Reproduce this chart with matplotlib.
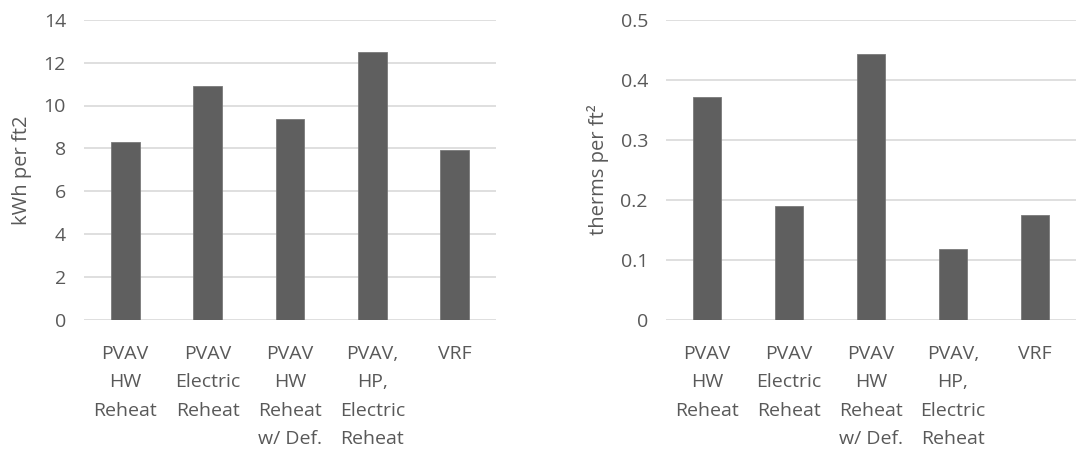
import matplotlib
matplotlib.use('Agg')
from matplotlib import pyplot as plt

systems = ['PVAV\nHW\nReheat', 'PVAV\nElectric\nReheat', 'PVAV\nHW\nReheat\nw/ Def.',
           'PVAV,\nHP,\nElectric\nReheat', 'VRF']
kwh = [8.31, 10.92, 9.37, 12.48, 7.91]
therms = [0.372, 0.190, 0.443, 0.118, 0.174]

plt.rcParams['font.family'] = ['Open Sans', 'DejaVu Sans']
text_color = '#595959'

fig = plt.figure(figsize=(10.85, 4.53), dpi=100)
ax1 = fig.add_axes([84 / 1085, 133 / 453, 412 / 1085, 300.3 / 453])
ax2 = fig.add_axes([666 / 1085, 133 / 453, 410 / 1085, 300.3 / 453])


def style(ax, values, ymax, step, label):
    x = range(len(values))
    ax.bar(x, values, width=0.35, color='#5f5f5f', edgecolor='#7a7a7a', linewidth=0.6, zorder=3)
    ax.set_xlim(-0.5, len(values) - 0.5)
    ax.set_ylim(0, ymax)
    ticks = [i * step for i in range(int(round(ymax / step)) + 1)]
    ax.set_yticks(ticks)
    ax.set_yticklabels(['0' if t == 0 else ('%g' % round(t, 2)) for t in ticks])
    ax.set_xticks(list(x))
    ax.set_xticklabels(systems, linespacing=1.74)
    ax.grid(axis='y', color='#d9d9d9', linewidth=1.2, zorder=0)
    for s in ax.spines.values():
        s.set_visible(False)
    ax.tick_params(length=0, labelsize=14, colors=text_color)
    ax.tick_params(axis='x', pad=18)
    ax.tick_params(axis='y', pad=13)
    ax.set_ylabel(label, fontsize=14.5, color=text_color, labelpad=8)


style(ax1, kwh, 14, 2, 'kWh per ft2')
style(ax2, therms, 0.5, 0.1, 'therms per ft²')

fig.savefig('out.png', dpi=100)
